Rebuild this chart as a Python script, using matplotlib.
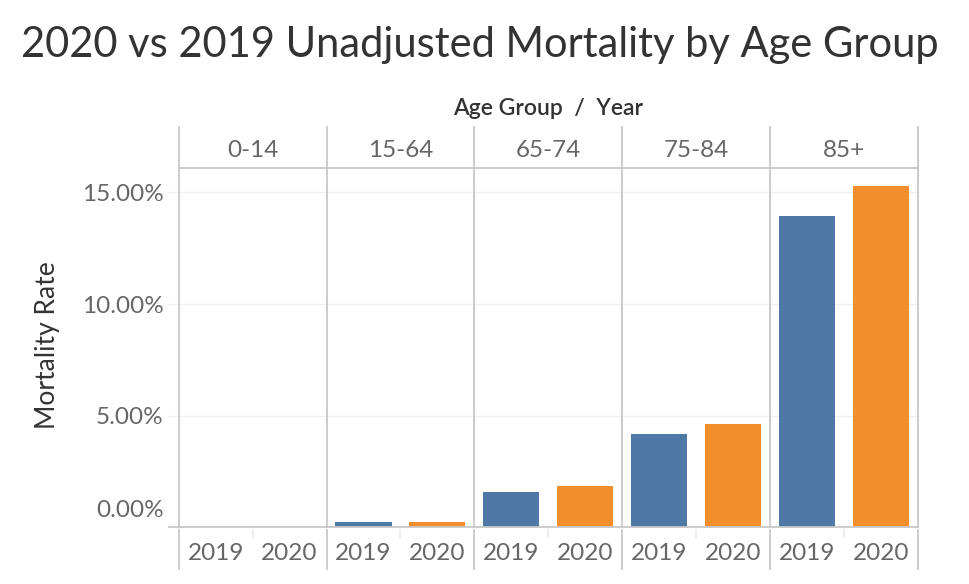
import numpy as np
import matplotlib
matplotlib.use("Agg")
import matplotlib.pyplot as plt

# Mortality rates (%)
age_groups = ["0-14", "15-64", "65-74", "75-84", "85+"]
years = ["2019", "2020"]
rate_2019 = [0.02, 0.24, 1.58, 4.18, 13.95]
rate_2020 = [0.02, 0.25, 1.85, 4.63, 15.29]
y_ticks = [0, 5, 10, 15]

blue = "#4e79a7"
orange = "#f28e2b"
line_col = "#c8c8c8"
grid_col = "#f0f0f0"
plt.rcParams["font.family"] = ["Lato", "DejaVu Sans"]

fig = plt.figure(figsize=(9.7, 5.84), dpi=100)
W, H = 970, 584
ax_left, ax_right, ax_top, ax_bot = 178.7, 917.7, 168.3, 527.3
ax = fig.add_axes([ax_left / W, 1 - ax_bot / H, (ax_right - ax_left) / W, (ax_bot - ax_top) / H])
ax_h = ax_bot - ax_top
ax_w = ax_right - ax_left

n = len(age_groups)
x19 = np.arange(n) * 2 + 0.5
x20 = np.arange(n) * 2 + 1.5
ax.bar(x19, rate_2019, width=0.76, color=blue, zorder=3)
ax.bar(x20, rate_2020, width=0.76, color=orange, zorder=3)

ax.set_xlim(0, 2 * n)
ax.set_ylim(0, 16.08)
ax.set_xticks([])
ax.set_yticks([])
for s in ax.spines.values():
    s.set_visible(False)

ytr = ax.get_yaxis_transform()
xtr = ax.get_xaxis_transform()
tick_fs = 17.5

# gridlines (extend a little left of the axes)
for t in y_ticks:
    col = line_col if t == 0 else grid_col
    ax.plot([-10 / ax_w, 1], [t, t], transform=ytr, color=col,
            lw=1.3 if t == 0 else 1.0, clip_on=False, zorder=4 if t == 0 else 1)
    lab = f"{t:.2f}%"
    if t == 0:
        ax.text(-15 / ax_w, t + 0.3, lab, transform=ytr, ha="right", va="bottom",
                fontsize=tick_fs, color="#666666")
    else:
        ax.text(-15 / ax_w, t - 0.1, lab, transform=ytr, ha="right", va="center",
                fontsize=tick_fs, color="#666666")

# panel dividers and header
head_top = 1 + (ax_top - 126.7) / ax_h
for i in range(n + 1):
    ax.plot([2 * i, 2 * i], [0, head_top], transform=xtr, color=line_col,
            lw=1.3, clip_on=False, zorder=5)
    ax.plot([2 * i, 2 * i], [-2.7 / ax_h, -41.7 / ax_h], transform=xtr,
            color=line_col, lw=1.3, clip_on=False)
ax.plot([0, 2 * n], [1, 1], transform=xtr, color=line_col, lw=1.3, clip_on=False)

for i, g in enumerate(age_groups):
    ax.text(2 * i + 1, 1 + (ax_top - 150) / ax_h, g, transform=xtr,
            ha="center", va="center", fontsize=tick_fs, color="#666666")
    ax.plot([2 * i + 1, 2 * i + 1], [-2.7 / ax_h, -9.7 / ax_h], transform=xtr,
            color="#ececec", lw=1.3, clip_on=False)
    for j, yr in enumerate(years):
        ax.text(2 * i + j + 0.5, -(553 - ax_bot) / ax_h, yr, transform=xtr,
                ha="center", va="center", fontsize=tick_fs, color="#666666")

ax.text(0.5, 1 + (ax_top - 108) / ax_h, "Age Group  /  Year", transform=ax.transAxes,
        ha="center", va="center", fontsize=16.5, color="#333333", fontweight="semibold")

fig.text(48 / W, 1 - 345 / H, "Mortality Rate", rotation=90, ha="center", va="center",
         fontsize=19, color="#333333")
fig.text(480 / W, 1 - 45 / H, "2020 vs 2019 Unadjusted Mortality by Age Group",
         ha="center", va="center", fontsize=30, color="#333333")

fig.savefig("out.png", dpi=100)
